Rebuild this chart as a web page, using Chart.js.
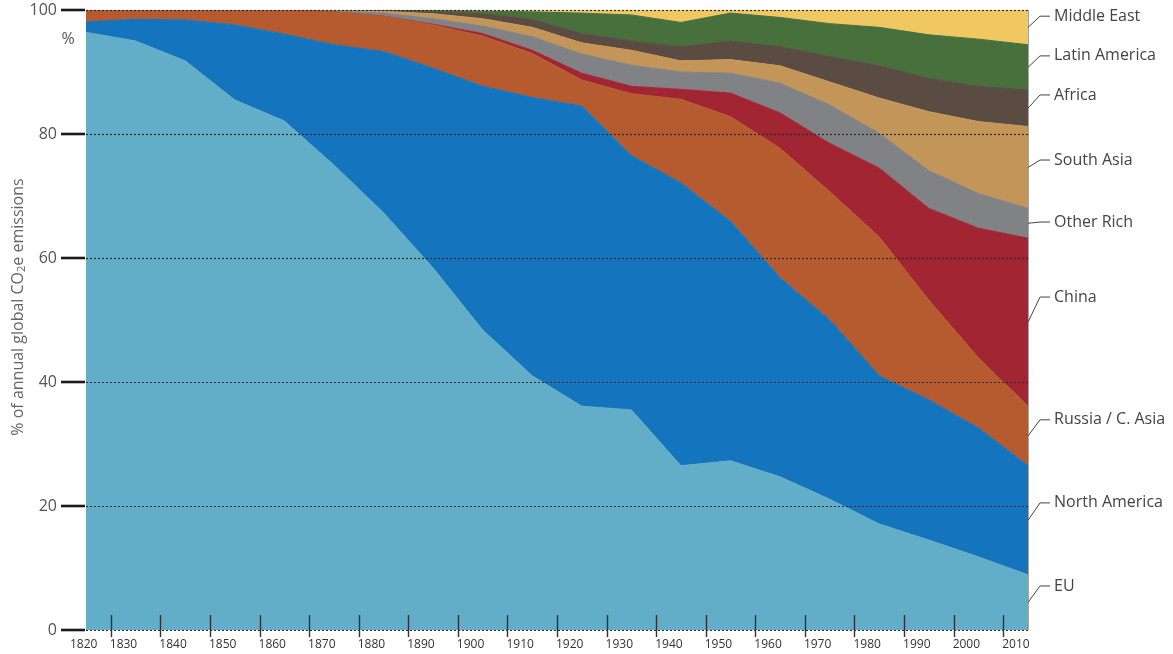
<!DOCTYPE html>
<html>
<head>
<meta charset="utf-8">
<script src="https://cdn.jsdelivr.net/npm/chart.js@4.4.1/dist/chart.umd.min.js"></script>
<style>
html,body{margin:0;padding:0;background:#fff;}
#wrap{width:1173px;height:654px;position:relative;}
</style>
</head>
<body>
<div id="wrap"><canvas id="c" width="1173" height="654"></canvas></div>
<script>
// ---- data ----
const years = [1825,1835,1845,1855,1865,1875,1885,1895,1905,1915,1925,1935,1945,1955,1965,1975,1985,1995,2005,2015];
const seriesNames = ['EU','North America','Russia / C. Asia','China','Other Rich','South Asia','Africa','Latin America','Middle East'];
const eu           = [96.4,95.0,91.8,85.5,82.1,75.0,67.3,58.4,48.4,41.0,36.1,35.5,26.5,27.3,24.7,21.1,17.1,14.5,11.8,8.9];
const northAmerica = [1.7,3.5,6.6,12.1,14.0,19.4,26.0,32.2,39.3,44.9,48.4,41.0,45.6,38.6,32.1,28.9,23.9,22.6,20.8,17.6];
const russiaCAsia  = [1.9,1.5,1.6,2.4,3.9,5.3,5.7,7.0,8.1,7.1,4.2,10.0,13.5,16.9,20.9,20.7,22.4,16.1,11.3,9.6];
const china        = [0,0,0,0,0,0,0,0.1,0.4,0.5,1.1,1.2,1.6,3.8,5.7,7.8,11.1,14.8,20.9,27.1];
const otherRich    = [0,0,0,0,0,0.15,0.5,0.9,1.2,2.2,3.1,3.4,2.8,3.2,4.8,6.2,5.6,6.1,5.6,4.8];
const southAsia    = [0,0,0,0,0,0.05,0.3,0.8,1.2,1.5,1.8,2.4,1.8,2.2,2.8,3.7,5.7,9.5,11.6,13.2];
const africa       = [0,0,0,0,0,0.1,0.1,0.3,0.8,1.3,1.5,1.5,2.3,3.0,3.1,4.1,5.2,5.4,5.7,5.9];
const latinAmerica = [0,0,0,0,0,0,0.1,0.2,0.4,1.2,3.3,4.2,3.9,4.5,4.7,5.3,6.2,7.0,7.6,7.3];
const middleEast   = [0,0,0,0,0,0,0,0.1,0.2,0.3,0.5,0.8,2.0,0.5,1.2,2.2,2.8,4.0,4.7,5.6];

const yTicks = [0,20,40,60,80,100];
const xTickYears = [1830,1840,1850,1860,1870,1880,1890,1900,1910,1920,1930,1940,1950,1960,1970,1980,1990,2000,2010];
const xTickLabels = ['1820','1830','1840','1850','1860','1870','1880','1890','1900','1910','1920','1930','1940','1950','1960','1970','1980','1990','2000','2010'];
// label anchors in % units (where each right-hand label sits)
const labelAnchors = [7.1,20.5,33.9,53.7,65.8,75.8,86.3,92.6,99.0];

// ---- styles ----
const colors = ['#62adc8','#1474bd','#b55b2f','#a12532','#808285','#c49559','#5a4b43','#48703d','#f0c760'];
const FONT = '"Open Sans", "Noto Sans", sans-serif';

const allSeries = [eu,northAmerica,russiaCAsia,china,otherRich,southAsia,africa,latinAmerica,middleEast];

const datasets = allSeries.map((vals,i)=>({
  label: seriesNames[i],
  data: years.map((yr,j)=>({x:yr,y:vals[j]})),
  backgroundColor: colors[i],
  borderColor: colors[i],
  borderWidth: 1,
  pointRadius: 0,
  tension: 0,
  fill: i===0 ? 'origin' : '-1'
}));

const decor = {
  id:'decor',
  afterDatasetsDraw(chart){
    const {ctx, chartArea:a, scales:{x,y}} = chart;
    ctx.save();
    // right edge line
    ctx.strokeStyle='#a9a49c'; ctx.lineWidth=1;
    ctx.beginPath(); ctx.moveTo(a.right+0.5,a.top); ctx.lineTo(a.right+0.5,a.bottom); ctx.stroke();
    // dotted grid lines
    ctx.strokeStyle='#2a2a2a'; ctx.lineWidth=1.2; ctx.setLineDash([2,2]);
    yTicks.forEach(v=>{
      const py=Math.round(y.getPixelForValue(v))+0.5;
      ctx.beginPath(); ctx.moveTo(a.left,py); ctx.lineTo(a.right,py); ctx.stroke();
    });
    ctx.setLineDash([]);
    // y tick marks
    ctx.strokeStyle='#1a1a1a'; ctx.lineWidth=2.6;
    yTicks.forEach(v=>{
      const py=y.getPixelForValue(v);
      ctx.beginPath(); ctx.moveTo(a.left-25,py); ctx.lineTo(a.left-1,py); ctx.stroke();
    });
    // x tick marks
    ctx.strokeStyle='#333'; ctx.lineWidth=1.4;
    xTickYears.forEach(v=>{
      const px=Math.round(x.getPixelForValue(v))+0.5;
      ctx.beginPath(); ctx.moveTo(px,a.bottom-15); ctx.lineTo(px,a.bottom+7); ctx.stroke();
    });
    // x labels
    ctx.fillStyle='#333'; ctx.font='12px '+FONT; ctx.textAlign='left'; ctx.textBaseline='middle';
    xTickLabels.forEach((lab,i)=>{
      const px = i===0 ? a.left-16 : x.getPixelForValue(xTickYears[i-1])-1;
      ctx.fillText(lab, px, a.bottom+15);
    });
    // right labels with leader lines
    const last = years.length-1;
    ctx.font='16px '+FONT; ctx.fillStyle='#444'; ctx.strokeStyle='#444'; ctx.lineWidth=1;
    seriesNames.forEach((name,i)=>{
      const top = chart.getDatasetMeta(i).data[last].y;
      const bot = i===0 ? a.bottom : chart.getDatasetMeta(i-1).data[last].y;
      const sy = (top+bot)/2;
      const ly = y.getPixelForValue(labelAnchors[i]);
      ctx.beginPath(); ctx.moveTo(a.right,sy); ctx.lineTo(a.right+12,ly); ctx.lineTo(a.right+22,ly); ctx.stroke();
      ctx.fillText(name, a.right+26, ly);
    });
    // % unit label
    ctx.fillStyle='#555'; ctx.font='16px '+FONT; ctx.textAlign='center';
    ctx.fillText('%', a.left-18, y.getPixelForValue(95.2));
    // rotated y title with subscript
    ctx.fillStyle='#666';
    const p1='% of annual global CO', p2='2', p3='e emissions';
    ctx.font='16px '+FONT; const w1=ctx.measureText(p1).width, w3=ctx.measureText(p3).width;
    ctx.font='11px '+FONT; const w2=ctx.measureText(p2).width;
    const tot=w1+w2+w3;
    ctx.translate(18,(a.top+a.bottom)/2-13);
    ctx.rotate(-Math.PI/2);
    ctx.textAlign='left'; ctx.textBaseline='middle';
    let cx=-tot/2;
    ctx.font='16px '+FONT; ctx.fillText(p1,cx,0); cx+=w1;
    ctx.font='11px '+FONT; ctx.fillText(p2,cx,4); cx+=w2;
    ctx.font='16px '+FONT; ctx.fillText(p3,cx,0);
    ctx.restore();
  }
};

new Chart(document.getElementById('c'),{
  type:'line',
  data:{datasets},
  options:{
    responsive:false,
    animation:false,
    layout:{padding:{left:0,right:145,top:10,bottom:0}},
    plugins:{legend:{display:false},tooltip:{enabled:false}},
    elements:{line:{borderJoinStyle:'round'}},
    scales:{
      x:{
        type:'linear', min:1825, max:2015,
        grid:{display:false}, border:{display:false},
        ticks:{display:false},
        afterFit(s){s.height=24; s.paddingLeft=0; s.paddingRight=0;}
      },
      y:{
        stacked:true, min:0, max:100,
        grid:{display:false, drawTicks:false}, border:{display:false},
        ticks:{stepSize:20, color:'#555', font:{family:FONT,size:16}, padding:29},
        afterFit(s){s.width=86; s.paddingTop=0; s.paddingBottom=0;}
      }
    }
  },
  plugins:[decor]
});
</script>
</body>
</html>
